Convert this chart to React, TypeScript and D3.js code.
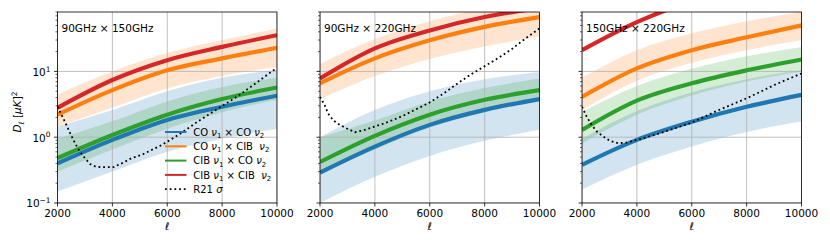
import React from 'react';
import * as d3 from 'd3';

// sampled multipoles for the model curves
const ELL = [2000, 4000, 6000, 8000, 10000];
const PANEL_TITLES = ['90GHz × 150GHz', '90GHz × 220GHz', '150GHz × 220GHz'];
const X_TICKS = [2000, 4000, 6000, 8000, 10000];
const Y_MAJOR = [0.1, 1, 10];
const Y_EXP = ['−1', '0', '1'];

// one row per panel: 90x150, 90x220, 150x220
const coCo = [
  [0.40, 0.91, 1.83, 2.9, 4.27],
  [0.29, 0.72, 1.54, 2.6, 3.8],
  [0.38, 0.91, 1.72, 2.9, 4.4],
];
const coCoLow = [
  [0.15, 0.30, 0.60, 0.95, 1.35],
  [0.10, 0.25, 0.52, 0.88, 1.30],
  [0.16, 0.38, 0.72, 1.20, 1.75],
];
const coCoHigh = [
  [1.45, 2.6, 5.0, 8.0, 10.5],
  [1.0, 2.6, 5.0, 7.6, 9.8],
  [0.95, 2.5, 4.8, 7.6, 10.5],
];
const coCib = [
  [2.2, 5.2, 10.4, 15.8, 22.8],
  [6.6, 15.8, 29.7, 47.5, 67],
  [4.1, 11.1, 21, 33, 50],
];
const coCibLow = [
  [1.45, 2.8, 5.5, 8.5, 11.7],
  [3.8, 8.5, 15.5, 24, 34],
  [2.6, 7.2, 13.5, 21, 30],
];
const coCibHigh = [
  [4.5, 10, 19, 30, 45],
  [13, 31, 58, 92, 130],
  [8, 21, 38, 58, 80],
];
const cibCo = [
  [0.48, 1.08, 2.2, 3.8, 5.7],
  [0.42, 1.05, 2.2, 3.7, 5.2],
  [1.29, 3.6, 6.6, 10.4, 15.2],
];
const cibCoLow = [
  [0.3, 0.65, 1.35, 2.4, 3.7],
  [0.28, 0.65, 1.4, 2.4, 3.6],
  [0.8, 2.2, 4.3, 7.0, 10.0],
];
const cibCoHigh = [
  [0.95, 1.75, 3.5, 5.8, 8.0],
  [1.0, 1.8, 3.5, 5.6, 7.8],
  [2.4, 6.0, 11, 17, 23.6],
];
const cibCib = [
  [2.8, 7.4, 14.8, 23.6, 35.5],
  [7.8, 22.4, 42, 67, 92],
  [21, 56, 116, 180, 250],
];

// R21 sigma
const r21Ell = [
  [2000, 2270, 2460, 2640, 2820, 3000, 3190, 3370, 3610, 4030, 4340, 4700, 5070, 5430, 5800, 6500, 7200, 7900, 8530, 9200, 9870, 10000],
  [2000, 2170, 2290, 2470, 2720, 2960, 3270, 3630, 3990, 4360, 4720, 5090, 5570, 5940, 6500, 7000, 7500, 8000, 8500, 9000, 9500, 10000],
  [2000, 2170, 2350, 2540, 2780, 3020, 3320, 3630, 3990, 4360, 4840, 5330, 5940, 7000, 8000, 8500, 9000, 9500, 10000],
];
const r21Sigma = [
  [2.9, 1.72, 1.15, 0.81, 0.6, 0.48, 0.39, 0.36, 0.35, 0.35, 0.40, 0.48, 0.54, 0.64, 0.76, 1.15, 1.83, 2.8, 4.1, 6.5, 10.4, 11],
  [4.1, 3.08, 2.31, 1.83, 1.54, 1.37, 1.19, 1.29, 1.45, 1.63, 1.87, 2.18, 2.75, 3.27, 4.6, 6.5, 9, 12, 16, 22, 32, 45],
  [2.91, 2.05, 1.54, 1.22, 1.02, 0.88, 0.81, 0.83, 0.91, 1.0, 1.15, 1.34, 1.63, 2.6, 3.9, 4.9, 6.2, 7.6, 9.3],
];

const LEGEND = [
  [['CO ', 0], ['ν', 1], ['1', 2], [' × CO ', 0], ['ν', 1], ['2', 2]],
  [['CO ', 0], ['ν', 1], ['1', 2], [' × CIB  ', 0], ['ν', 1], ['2', 2]],
  [['CIB ', 0], ['ν', 1], ['1', 2], [' × CO ', 0], ['ν', 1], ['2', 2]],
  [['CIB ', 0], ['ν', 1], ['1', 2], [' × CIB  ', 0], ['ν', 1], ['2', 2]],
  [['R21 ', 0], ['σ', 1]],
];

const COLORS = ['#1f77b4', '#ff7f0e', '#2ca02c', '#d62728'];
const FONT = 'DejaVu Sans';
const PANEL_X = [57.5, 320, 582];
const PW = 219.5;
const TOP = 12;
const BOTTOM = 203;

const y = d3.scaleLog().domain([0.1, 80]).range([BOTTOM, TOP]);

// small text renderer for italic / subscript pieces
function Rich({ parts, size }) {
  let prev = 0;
  return parts.map(([t, kind], i) => {
    const off = kind === 2 ? size * 0.25 : 0;
    const dy = off - prev;
    prev = off;
    return (
      <tspan key={i} dy={dy} fontStyle={kind === 1 ? 'italic' : 'normal'} fontSize={kind === 2 ? size * 0.7 : size}>
        {t}
      </tspan>
    );
  });
}

function Panel({ idx }) {
  const x0 = PANEL_X[idx];
  const x = d3.scaleLinear().domain([2000, 10000]).range([x0, x0 + PW]);

  const line = d3.line().x(d => x(d[0])).y(d => y(d[1])).curve(d3.curveMonotoneX);
  const dotted = d3.line().x(d => x(d[0])).y(d => y(d[1]));
  const area = d3.area().x(d => x(d[0])).y0(d => y(d[1])).y1(d => y(d[2])).curve(d3.curveMonotoneX);

  const pts = (vals) => ELL.map((l, i) => [l, vals[i]]);
  const band = (lo, hi) => ELL.map((l, i) => [l, lo[i], hi[i]]);

  const bands = [
    { d: band(coCoLow[idx], coCoHigh[idx]), c: COLORS[0] },
    { d: band(coCibLow[idx], coCibHigh[idx]), c: COLORS[1] },
    { d: band(cibCoLow[idx], cibCoHigh[idx]), c: COLORS[2] },
  ];
  const lines = [coCo[idx], coCib[idx], cibCo[idx], cibCib[idx]];
  const r21 = r21Ell[idx].map((l, i) => [l, r21Sigma[idx][i]]);

  const minor = y.ticks().filter(v => !Y_MAJOR.includes(v) && v <= 80);
  const clip = `clip-${idx}`;

  return (
    <g>
      <defs>
        <clipPath id={clip}>
          <rect x={x0} y={TOP} width={PW} height={BOTTOM - TOP} />
        </clipPath>
      </defs>
      <g clipPath={`url(#${clip})`}>
        {bands.map((b, i) => (
          <path key={i} d={area(b.d)} fill={b.c} fillOpacity={0.2} stroke="none" />
        ))}
        {X_TICKS.map(t => (
          <line key={t} x1={x(t)} x2={x(t)} y1={TOP} y2={BOTTOM} stroke="#b0b0b0" strokeWidth={0.8} />
        ))}
        {Y_MAJOR.map(t => (
          <line key={t} x1={x0} x2={x0 + PW} y1={y(t)} y2={y(t)} stroke="#b0b0b0" strokeWidth={0.8} />
        ))}
        {lines.map((v, i) => (
          <path key={i} d={line(pts(v))} fill="none" stroke={COLORS[i]} strokeWidth={4.2} />
        ))}
        <path d={dotted(r21)} fill="none" stroke="#000" strokeWidth={1.8} strokeDasharray="1.8 2.9" />
      </g>
      <rect x={x0} y={TOP} width={PW} height={BOTTOM - TOP} fill="none" stroke="#000" strokeWidth={0.8} />

      {X_TICKS.map(t => (
        <g key={t}>
          <line x1={x(t)} x2={x(t)} y1={BOTTOM} y2={BOTTOM + 3.5} stroke="#000" strokeWidth={0.8} />
          <text x={x(t)} y={BOTTOM + 13.7} textAnchor="middle" fontSize={10.5} fontFamily={FONT}>{t}</text>
        </g>
      ))}
      {Y_MAJOR.map(t => (
        <line key={t} x1={x0 - 3.5} x2={x0} y1={y(t)} y2={y(t)} stroke="#000" strokeWidth={0.8} />
      ))}
      {minor.map(t => (
        <line key={t} x1={x0 - 2} x2={x0} y1={y(t)} y2={y(t)} stroke="#000" strokeWidth={0.6} />
      ))}
      {idx === 0 && Y_MAJOR.map((t, i) => (
        <text key={t} x={x0 - 7} y={y(t) + 4.4} textAnchor="end" fontSize={10.5} fontFamily={FONT}>
          10<tspan dy={-4.2} fontSize={7.4}>{Y_EXP[i]}</tspan>
        </text>
      ))}

      <text x={x0 + 4} y={31.5} fontSize={10.5} fontFamily={FONT}>{PANEL_TITLES[idx]}</text>
      <text x={x0 + PW / 2} y={230} textAnchor="middle" fontSize={10.5} fontStyle="italic" fontFamily={FONT}>ℓ</text>

      {idx === 0 && (
        <g>
          {LEGEND.map((parts, i) => {
            const yy = 132 + i * 14.3;
            return (
              <g key={i}>
                <line x1={165} x2={186.5} y1={yy} y2={yy}
                  stroke={i < 4 ? COLORS[i] : '#000'} strokeWidth={i < 4 ? 2 : 1.8}
                  strokeDasharray={i < 4 ? null : '1.8 2.9'} />
                <text x={193.3} y={yy + 3.6} fontFamily={FONT} fontSize={10} style={{ whiteSpace: 'pre' }}>
                  <Rich parts={parts} size={10} />
                </text>
              </g>
            );
          })}
        </g>
      )}
    </g>
  );
}

export default function App() {
  return (
    <svg width={830} height={244} style={{ position: 'absolute', left: 0, top: 0, background: '#fff' }}>
      <text transform="translate(21,112) rotate(-90)" textAnchor="middle" fontSize={10.5} fontFamily={FONT} style={{ whiteSpace: 'pre' }}>
        <tspan fontStyle="italic">D</tspan>
        <tspan dy={2.6} fontSize={7.4} fontStyle="italic">ℓ</tspan>
        <tspan dy={-2.6}> [</tspan>
        <tspan fontStyle="italic">μK</tspan>
        <tspan>]</tspan>
        <tspan dy={-4.2} fontSize={7.4}>2</tspan>
      </text>
      {[0, 1, 2].map(i => <Panel key={i} idx={i} />)}
    </svg>
  );
}
